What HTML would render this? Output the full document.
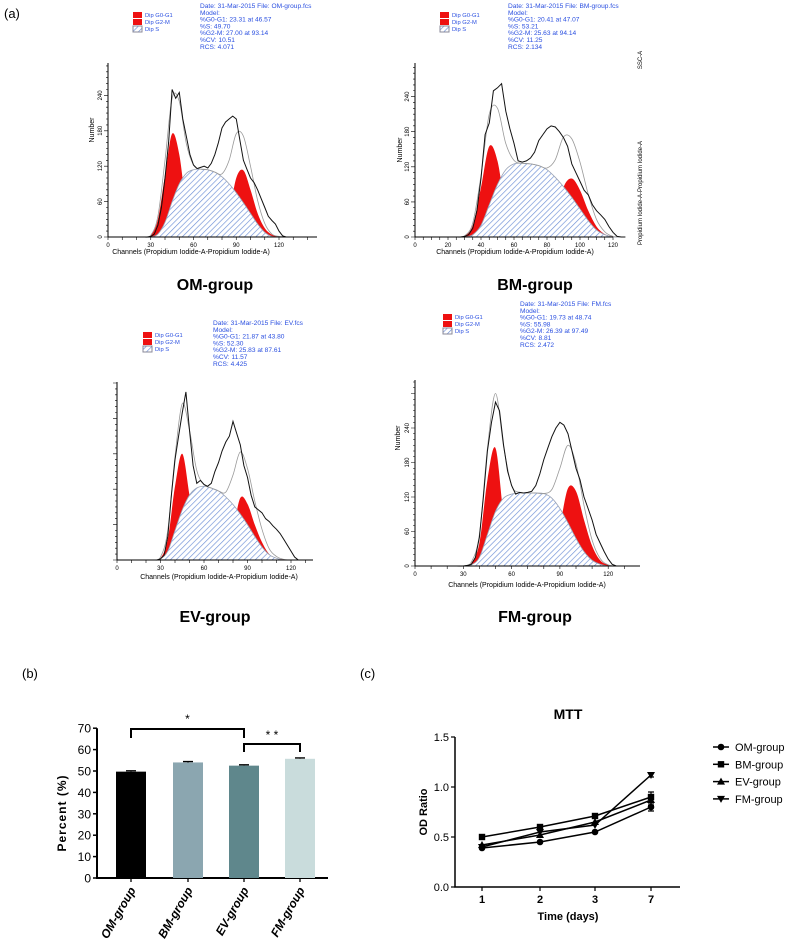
<!DOCTYPE html>
<html><head><meta charset="utf-8"><style>
html,body{margin:0;padding:0;background:#fff;}
svg{display:block;font-family:"Liberation Sans",Arial,sans-serif;}
</style></head><body>
<svg id="fig" width="787" height="943" viewBox="0 0 787 943" xmlns="http://www.w3.org/2000/svg">
<defs>
<pattern id="hatch" patternUnits="userSpaceOnUse" width="4" height="4" patternTransform="rotate(45)">
<rect width="4" height="4" fill="#fff"/><line x1="0" y1="0" x2="0" y2="4" stroke="#6d8fd6" stroke-width="1.3"/>
</pattern>
</defs>
<text x="4" y="18" font-size="13">(a)</text>
<text x="22" y="678" font-size="13">(b)</text>
<text x="360" y="678" font-size="13">(c)</text>
<g id="flow"></g>
<g id="bars"></g>
<g id="mtt"></g>
</svg>
<script>
// ---- flow cytometry data (channels 25..125, model step 5; raw step 2.5)
const modelChannels=[25,30,35,40,45,50,55,60,65,70,75,80,85,90,95,100,105,110,115,120,125];
const omG1=[0,3,30,105,175,140,50,8,0,0,0,0,0,0,0,0,0,0,0,0,0];
const omS=[0,0,5,25,60,90,108,114,115,114,110,102,90,75,58,40,22,8,1,0,0];
const omG2=[0,0,0,0,0,0,0,0,0,0,0,5,40,100,113,80,40,15,4,1,0];
const omRaw=[0,1,5,20,50,100,160,250,235,245,200,170,140,122,116,118,120,117,125,140,160,185,195,200,205,200,165,130,115,100,92,80,65,50,35,28,22,10,2,0,0];
const bmG1=[0,2,20,85,155,130,45,6,0,0,0,0,0,0,0,0,0,0,0,0,0];
const bmS=[0,0,4,20,55,90,115,125,126,125,122,115,102,86,68,48,28,12,4,0,0];
const bmG2=[0,0,0,0,0,0,0,0,0,0,0,3,30,85,100,80,45,18,5,1,0];
const bmRaw=[0,1,4,15,45,100,175,195,250,255,262,215,185,160,130,128,130,135,145,165,175,185,190,188,180,170,155,125,110,95,80,72,55,45,38,30,18,8,1,0,0];
const evG1=[0,3,35,125,180,110,30,3,0,0,0,0,0,0,0,0,0,0,0,0,0];
const evS=[0,2,15,50,85,110,122,125,122,117,107,94,78,60,40,22,9,3,0,0,0];
const evG2=[0,0,0,0,0,0,0,0,0,0,8,50,105,95,60,30,10,3,1,0,0];
const evRaw=[0,2,8,40,110,170,210,250,285,220,160,130,135,128,125,130,150,165,185,200,210,235,215,195,160,140,110,90,85,80,70,65,58,52,45,35,25,15,5,0,0];
const fmG1=[0,0,5,40,150,205,90,15,1,0,0,0,0,0,0,0,0,0,0,0,0];
const fmS=[0,0,2,15,55,95,118,125,127,127,127,126,118,100,75,48,25,10,3,0,0];
const fmG2=[0,0,0,0,0,0,0,0,0,0,0,0,15,70,135,130,80,35,10,2,0];
const fmRaw=[0,0,1,3,15,50,120,200,250,285,270,210,165,140,125,128,127,128,130,140,160,185,205,225,240,250,245,230,200,170,150,120,100,80,55,40,25,12,3,0,0];
const rawStart=27.5, rawStep=2.5;

// ---- bar chart data
const barCategories=["OM-group","BM-group","EV-group","FM-group"];
const barValues=[49.7,54.0,52.5,55.7];
const barErrors=[0.4,0.4,0.4,0.4];
const barTicks=[0,10,20,30,40,50,60,70];

// ---- MTT data
const mttDays=["1","2","3","7"];
const mttOM=[0.39,0.45,0.55,0.80];
const mttBM=[0.50,0.60,0.71,0.90];
const mttEV=[0.42,0.52,0.65,0.87];
const mttFM=[0.40,0.55,0.62,1.12];
const mttErr7=[0.04,0.05,0.05,0.02];
const mttTicks=[0.0,0.5,1.0,1.5];
const mttNames=["OM-group","BM-group","EV-group","FM-group"];

const NS="http://www.w3.org/2000/svg";
function mk(tag,attrs,parent){const e=document.createElementNS(NS,tag);for(const k in attrs)e.setAttribute(k,attrs[k]);parent.appendChild(e);return e;}
function smooth(pts){let d="M"+pts[0][0]+","+pts[0][1];for(let i=0;i<pts.length-1;i++){const p0=pts[Math.max(0,i-1)],p1=pts[i],p2=pts[i+1],p3=pts[Math.min(pts.length-1,i+2)];
const c1=[p1[0]+(p2[0]-p0[0])/6,p1[1]+(p2[1]-p0[1])/6],c2=[p2[0]-(p3[0]-p1[0])/6,p2[1]-(p3[1]-p1[1])/6];d+="C"+c1+" "+c2+" "+p2;}return d;}

const panels=[
 {id:"om",title:"OM-group",tx:215,ty:290,x0:108,sx:1.425,y0:237,sy:0.59,axTop:63,axEnd:317,labels:[0,30,60,90,120],tickStep:10,ylab:true,
  g1:omG1,s:omS,g2:omG2,raw:omRaw,info:[200,8],leg:[133,17],chan:[191,254],num:[94,130],
  lines:["Date: 31-Mar-2015 File: OM-group.fcs","Model:"," %G0-G1: 23.31 at 46.57"," %S:    49.70"," %G2-M:  27.00 at 93.14"," %CV:    10.51","RCS: 4.071"]},
 {id:"bm",title:"BM-group",tx:535,ty:290,x0:415,sx:1.65,y0:237,sy:0.585,axTop:63,axEnd:613,labels:[0,20,40,60,80,100,120],tickStep:5,ylab:true,
  g1:bmG1,s:bmS,g2:bmG2,raw:bmRaw,info:[508,8],leg:[440,17],chan:[515,254],num:[402,150],
  lines:["Date: 31-Mar-2015 File: BM-group.fcs","Model:"," %G0-G1: 20.41 at 47.07"," %S:    53.21"," %G2-M:  25.63 at 94.14"," %CV:    11.25","RCS: 2.134"]},
 {id:"ev",title:"EV-group",tx:215,ty:622,x0:117,sx:1.45,y0:560,sy:0.59,axTop:382,axEnd:313,labels:[0,30,60,90,120],tickStep:10,ylab:false,
  g1:evG1,s:evS,g2:evG2,raw:evRaw,info:[213,325],leg:[143,337],chan:[219,579],num:null,
  lines:["Date: 31-Mar-2015 File: EV.fcs","Model:"," %G0-G1: 21.87 at 43.80"," %S:    52.30"," %G2-M:  25.83 at 87.61"," %CV:    11.57","RCS: 4.425"]},
 {id:"fm",title:"FM-group",tx:535,ty:622,x0:415,sx:1.61,y0:566,sy:0.575,axTop:380,axEnd:640,labels:[0,30,60,90,120],tickStep:10,ylab:true,
  g1:fmG1,s:fmS,g2:fmG2,raw:fmRaw,info:[520,306],leg:[443,319],chan:[527,587],num:[400,438],
  lines:["Date: 31-Mar-2015 File: FM.fcs","Model:"," %G0-G1: 19.73 at 48.74"," %S:    55.98"," %G2-M:  26.39 at 97.49"," %CV:    8.81","RCS: 2.472"]}
];
const flow=document.getElementById("flow");
panels.forEach(p=>{
 const g=mk("g",{},flow);
 
 
 const X=c=>p.x0+c*p.sx, Y=v=>p.y0-v*p.sy;
 const mp=arr=>modelChannels.map((c,i)=>[X(c),Y(arr[i])]);
 const area=arr=>smooth(mp(arr))+"L"+X(125)+","+p.y0+"L"+X(25)+","+p.y0+"Z";
 const g1=mk("path",{d:area(p.g1),fill:"#ee1111",stroke:"none"},g);
 
 
 const g2=mk("path",{d:area(p.g2),fill:"#ee1111",stroke:"none"},g);
 
 
 const s=mk("path",{d:area(p.s),fill:"url(#hatch)",stroke:"#9aa3b5","stroke-width":"0.8"},g);
 
 
 const sum=modelChannels.map((c,i)=>p.g1[i]+p.s[i]+p.g2[i]);
 const fit=mk("path",{d:smooth(mp(sum)),fill:"none",stroke:"#999","stroke-width":"0.8"},g);
 
 
 const rp=p.raw.map((v,i)=>X(rawStart+i*rawStep).toFixed(1)+","+Y(v).toFixed(1)).join(" ");
 const raw=mk("polyline",{points:rp,fill:"none",stroke:"#111","stroke-width":"1"},g);
 
 
 const ax=mk("path",{d:`M${p.x0},${p.axTop}V${p.y0}H${p.axEnd}`,fill:"none",stroke:"#000","stroke-width":"1"},g);
 
 
 let td="";
 for(let c=0;X(c)<=p.axEnd;c+=p.tickStep){td+=`M${X(c)},${p.y0}v3`;}
 for(let v=0;Y(v)>=p.axTop;v+=10){td+=`M${p.x0},${Y(v)}h${v%60==0?-4:-2}`;}
 mk("path",{d:td,stroke:"#000","stroke-width":"0.6",fill:"none"},g);
 p.labels.forEach(l=>{const t=mk("text",{x:X(l),y:p.y0+10,"font-size":"6","text-anchor":"middle"},g);t.textContent=l;
  
  });
 if(p.ylab){[0,60,120,180,240].forEach(v=>{const t=mk("text",{x:0,y:0,"font-size":"6","text-anchor":"middle",transform:`translate(${p.x0-6},${Y(v)}) rotate(-90)`},g);t.textContent=v;
  
  });}
 if(p.num){const t=mk("text",{x:0,y:0,"font-size":"7","text-anchor":"middle",transform:`translate(${p.num[0]},${p.num[1]}) rotate(-90)`},g);t.textContent="Number";
  
  }
 const ct=mk("text",{x:p.chan[0],y:p.chan[1],"font-size":"7","text-anchor":"middle"},g);ct.textContent="Channels (Propidium Iodide-A-Propidium Iodide-A)";
 
 
 p.lines.forEach((l,i)=>{const t=mk("text",{x:p.info[0],y:p.info[1]+i*6.8,"font-size":"6.6",fill:"#2a4fe0","xml:space":"preserve"},g);t.textContent=l;
  
  });
 ["Dip G0-G1","Dip G2-M","Dip S"].forEach((l,i)=>{const yy=p.leg[1]+i*7;
  mk("rect",{x:p.leg[0],y:yy-5,width:9,height:6,fill:i<2?"#ee1111":"url(#hatch)",stroke:i<2?"none":"#889"},g);
  const t=mk("text",{x:p.leg[0]+12,y:yy,"font-size":"5.8",fill:"#2a4fe0"},g);t.textContent=l;
  
  });
 const tt=mk("text",{x:p.tx,y:p.ty,"font-size":"16","font-weight":"bold","text-anchor":"middle"},g);tt.textContent=p.title;
 
 
});
{const t=mk("text",{x:0,y:0,"font-size":"6","text-anchor":"middle",transform:"translate(642,60) rotate(-90)"},flow);t.textContent="SSC-A";
 
 
 const t2=mk("text",{x:0,y:0,"font-size":"6","text-anchor":"middle",transform:"translate(642,193) rotate(-90)"},flow);t2.textContent="Propidium Iodide-A-Propidium Iodide-A";
 
 }

// ---- bar chart
const bg=document.getElementById("bars");
const bx0=97,by0=878,bsy=2.14,bxEnd=328;
const BY=v=>by0-v*bsy;
const barX=[116,173,229,285],barW=30;
const barColors=["#000000","#8ba6b0","#5f878c","#c9dcdc"];
mk("path",{d:`M${bx0},${BY(70)}V${by0}H${bxEnd}`,stroke:"#000","stroke-width":"2",fill:"none"},bg);
barTicks.forEach(v=>{mk("line",{x1:bx0-4,x2:bx0,y1:BY(v),y2:BY(v),stroke:"#000","stroke-width":"1.5"},bg);
 const t=mk("text",{x:bx0-6,y:BY(v)+4.5,"font-size":"12","text-anchor":"end"},bg);t.textContent=v;
 
 });
barCategories.forEach((c,i)=>{
 const cx=barX[i]+barW/2;
 const r=mk("rect",{x:barX[i],y:BY(barValues[i]),width:barW,height:by0-BY(barValues[i]),fill:barColors[i]},bg);
 
 
 mk("path",{d:`M${cx},${BY(barValues[i]+barErrors[i])}V${BY(barValues[i])}M${cx-5},${BY(barValues[i]+barErrors[i])}h10`,stroke:"#000","stroke-width":"1.3"},bg);
 mk("line",{x1:cx,x2:cx,y1:by0,y2:by0+4,stroke:"#000","stroke-width":"1.3"},bg);
 const t=mk("text",{x:0,y:0,"font-size":"12","font-style":"italic","font-weight":"bold","text-anchor":"end",transform:`translate(${cx+5},${by0+12}) rotate(-60)`},bg);t.textContent=c;
 
 
});
{const t=mk("text",{x:0,y:0,"font-size":"12","font-weight":"bold","text-anchor":"middle","letter-spacing":"1",transform:`translate(66,813) rotate(-90)`},bg);t.textContent="Percent (%)";
 
 
 const c=[116+15,173+15,229+15,285+15];
 const b1=mk("path",{d:`M${c[0]},738V729H${c[2]}V738`,stroke:"#000","stroke-width":"2",fill:"none"},bg);
 
 
 const b2=mk("path",{d:`M${c[2]},752V744H${c[3]}V752`,stroke:"#000","stroke-width":"2",fill:"none"},bg);
 
 
 const s1=mk("text",{x:(c[0]+c[2])/2,y:723,"font-size":"12","text-anchor":"middle"},bg);s1.textContent="*";
 
 
 const s2=mk("text",{x:(c[2]+c[3])/2,y:739,"font-size":"12","text-anchor":"middle"},bg);s2.textContent="* *";
 
 }

// ---- MTT chart
const mg=document.getElementById("mtt");
const mx0=455,my0=887,msy=100,mxEnd=680;
const MX=[482,540,595,651];
const MY=v=>my0-v*msy;
mk("path",{d:`M${mx0},${MY(1.5)}V${my0}H${mxEnd}`,stroke:"#000","stroke-width":"1.5",fill:"none"},mg);
mttTicks.forEach(v=>{mk("line",{x1:mx0-4,x2:mx0,y1:MY(v),y2:MY(v),stroke:"#000","stroke-width":"1.2"},mg);
 const t=mk("text",{x:mx0-6,y:MY(v)+4,"font-size":"11","text-anchor":"end"},mg);t.textContent=v.toFixed(1);
 
 });
mttDays.forEach((d,i)=>{mk("line",{x1:MX[i],x2:MX[i],y1:my0,y2:my0+4,stroke:"#000","stroke-width":"1.2"},mg);
 const t=mk("text",{x:MX[i],y:my0+16,"font-size":"11","text-anchor":"middle","font-weight":"bold"},mg);t.textContent=d;
 
 });
{const t=mk("text",{x:568,y:719,"font-size":"14","font-weight":"bold","text-anchor":"middle"},mg);t.textContent="MTT";
 
 
 const xt=mk("text",{x:568,y:920,"font-size":"11","font-weight":"bold","text-anchor":"middle"},mg);xt.textContent="Time (days)";
 
 
 const yt=mk("text",{x:0,y:0,"font-size":"11","font-weight":"bold","text-anchor":"middle",transform:"translate(427,812) rotate(-90)"},mg);yt.textContent="OD Ratio";
 
 }
function marker(type,x,y,parent){
 if(type==0)return mk("circle",{cx:x,cy:y,r:3.3,fill:"#000"},parent);
 if(type==1)return mk("rect",{x:x-3.2,y:y-3.2,width:6.4,height:6.4,fill:"#000"},parent);
 if(type==2)return mk("path",{d:`M${x},${y-4}L${x+4},${y+3}L${x-4},${y+3}Z`,fill:"#000"},parent);
 return mk("path",{d:`M${x},${y+4}L${x+4},${y-3}L${x-4},${y-3}Z`,fill:"#000"},parent);}
[mttOM,mttBM,mttEV,mttFM].forEach((s,si)=>{
 const pl=mk("polyline",{points:s.map((v,i)=>MX[i]+","+MY(v)).join(" "),fill:"none",stroke:"#000","stroke-width":"1.5"},mg);
 
 
 const e=mttErr7[si],v7=s[3];
 mk("path",{d:`M${MX[3]},${MY(v7-e)}V${MY(v7+e)}M${MX[3]-3},${MY(v7-e)}h6M${MX[3]-3},${MY(v7+e)}h6`,stroke:"#000","stroke-width":"1.2"},mg);
 s.forEach((v,i)=>{const m=marker(si,MX[i],MY(v),mg);
  
  });
 const ly=747+si*17.3;
 mk("line",{x1:713,x2:729,y1:ly,y2:ly,stroke:"#000","stroke-width":"1.5"},mg);
 marker(si,721,ly,mg);
 const t=mk("text",{x:735,y:ly+4,"font-size":"11"},mg);t.textContent=mttNames[si];
 
 
});
</script>
</body></html>
